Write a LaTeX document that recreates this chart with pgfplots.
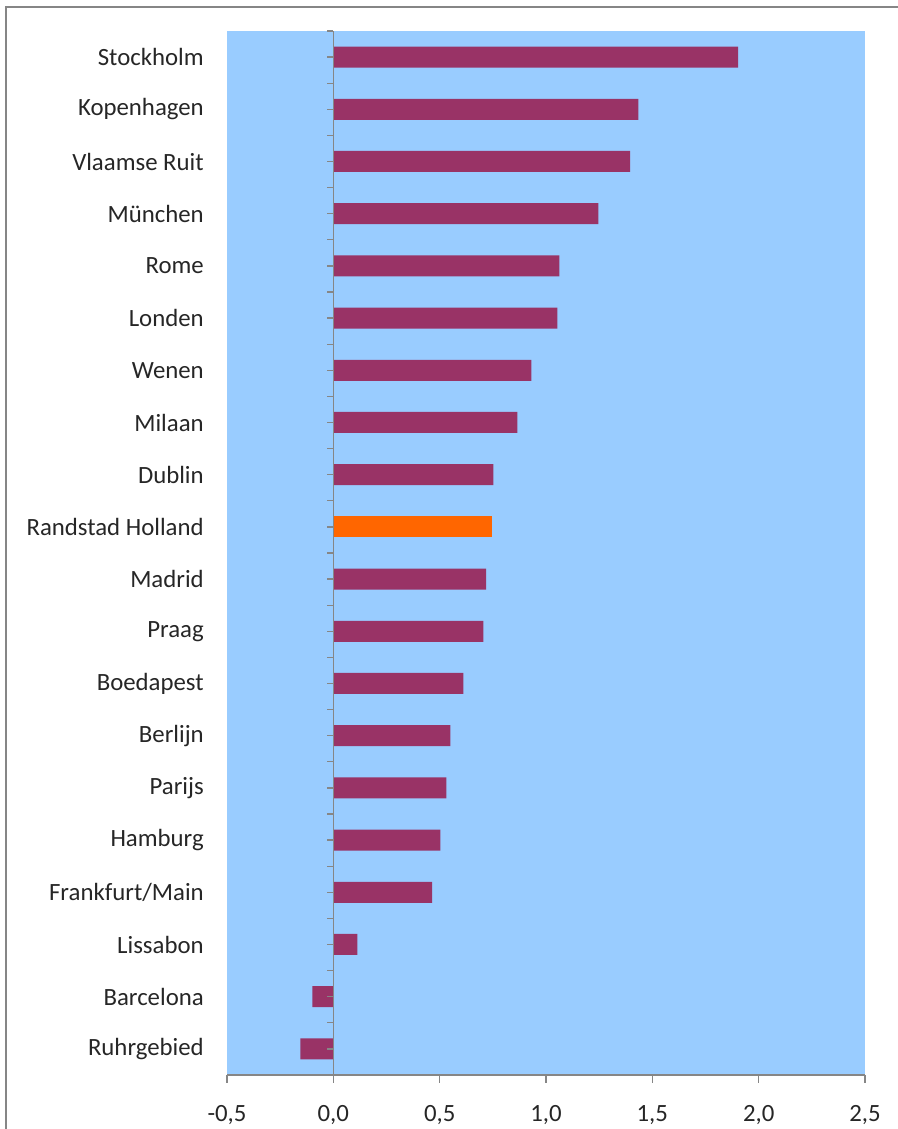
\documentclass[border=0pt]{standalone}
\usepackage{pgfplots}
\pgfplotsset{compat=1.18}
\usepackage{pgfplotstable}
\usepackage{fontspec}
\setmainfont{Carlito}
\definecolor{bg}{HTML}{99CCFF}
\definecolor{plum}{HTML}{993366}
\definecolor{org}{HTML}{FF6600}
\definecolor{axgray}{HTML}{868686}

\pgfplotstableread{
y val
0 -0.155
1 -0.099
2 0.113
3 0.465
4 0.503
5 0.531
6 0.550
7 0.611
8 0.705
9 0.719
11 0.752
12 0.865
13 0.931
14 1.053
15 1.063
16 1.246
17 1.396
18 1.434
19 1.904
}\mainbars
\pgfplotstableread{
y val
10 0.748
}\randstad

\begin{document}
\fontsize{18.6}{22}\selectfont
\begin{tikzpicture}
\useasboundingbox (0,0) rectangle (673.5pt,846.75pt);
\draw[axgray, line width=1.5pt] (4.5pt,0) -- (4.5pt,841.5pt) -- (673.5pt,841.5pt);
\begin{axis}[
  at={(170.25pt,40.5pt)}, anchor=south west,
  scale only axis, width=478.5pt, height=783pt,
  xmin=-0.5, xmax=2.5, ymin=-0.5, ymax=19.5,
  xbar, bar width=15.75pt, bar shift=0pt,
  axis background/.style={fill=bg, draw=none},
  axis x line*=bottom, axis y line*=left,
  separate axis lines,
  x axis line style={draw=axgray, line width=1pt, -},
  y axis line style={draw=none},
  xtick={-0.5,0,0.5,1,1.5,2,2.5},
  xticklabels={{-0,5},{0,0},{0,5},{1,0},{1,5},{2,0},{2,5}},
  tick align=outside,
  x tick style={draw=axgray, line width=1pt},
  y tick style={draw=none},
  major tick length=6pt,
  xticklabel style={anchor=north, inner sep=0pt, yshift=-16.5pt, text=black!85},
  ytick={0,...,19},
  yticklabels={Ruhrgebied,Barcelona,Lissabon,Frankfurt/Main,Hamburg,Parijs,Berlijn,Boedapest,Praag,Madrid,Randstad Holland,Dublin,Milaan,Wenen,Londen,Rome,München,Vlaamse Ruit,Kopenhagen,Stockholm},
  yticklabel style={anchor=east, inner sep=0pt, xshift=-11.25pt, text=black!85},
  clip=false,
]
\addplot[fill=plum, draw=none] table[x=val, y=y] {\mainbars};
\addplot[fill=org, draw=none] table[x=val, y=y] {\randstad};
\draw[axgray, line width=1pt] (axis cs:0,-0.5) -- (axis cs:0,19.5);
\pgfplotsinvokeforeach{-0.5,0,...,19.5}{
  \draw[axgray, line width=1pt] (axis cs:0,#1) -- ++(-5pt,0pt);
}
\end{axis}
\end{tikzpicture}
\end{document}
